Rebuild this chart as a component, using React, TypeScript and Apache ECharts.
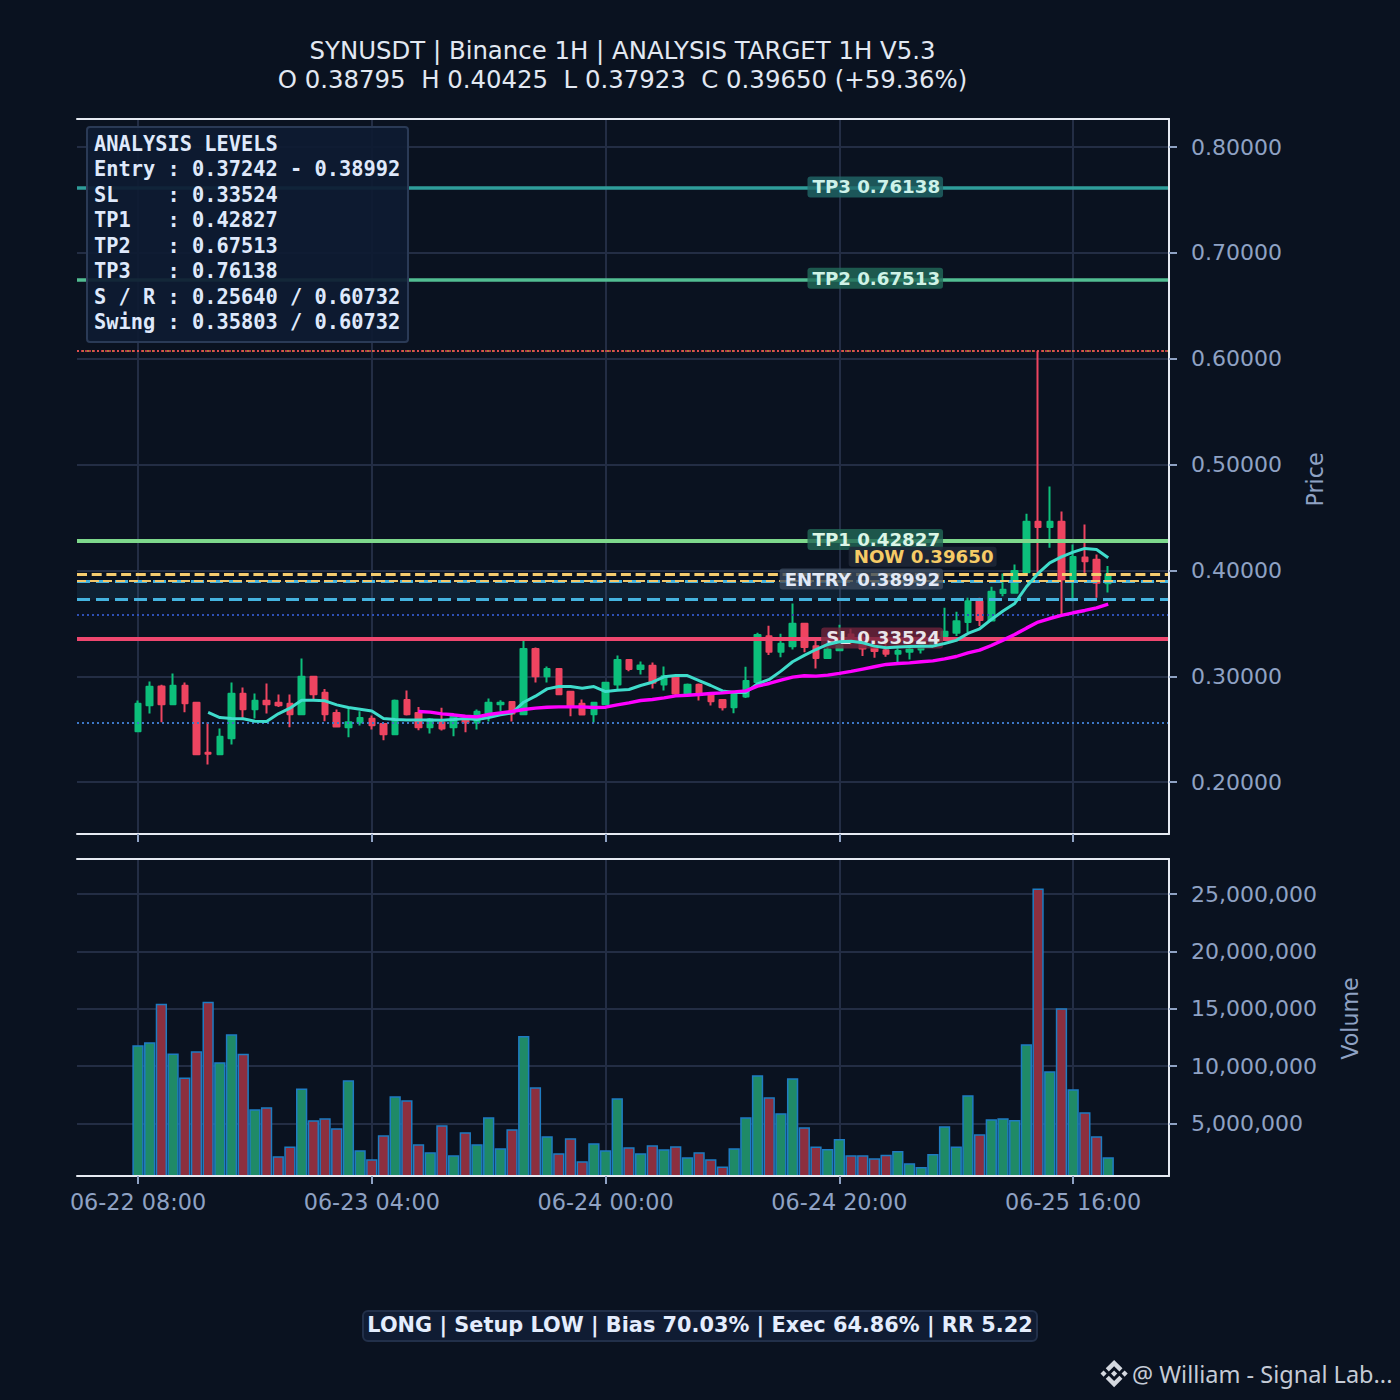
import React, { useEffect, useRef } from "react";
import * as echarts from "echarts";

// [open, close, low, high] for each hourly candle
const candles = [
  [.2481,.2740,.2481,.2771],[.2727,.2900,.2648,.2951],[.2903,.2736,.2566,.2919],[.2736,.2910,.2736,.3026],
  [.2910,.2746,.2661,.2941],[.2749,.2264,.2264,.2749],[.2277,.2267,.2166,.2566],[.2264,.2428,.2264,.2506],
  [.2415,.2834,.2355,.2941],[.2834,.2689,.2607,.2894],[.2689,.2768,.2601,.2837],[.2768,.2736,.2648,.2932],
  [.2749,.2727,.2711,.2828],[.2740,.2642,.2519,.2828],[.2642,.2995,.2642,.3168],[.2995,.2831,.2780,.2995],
  [.2844,.2642,.2576,.2881],[.2654,.2525,.2516,.2686],[.2519,.2566,.2425,.2702],[.2563,.2607,.2535,.2670],
  [.2598,.2538,.2497,.2629],[.2550,.2453,.2396,.2550],[.2453,.2768,.2453,.2780],[.2777,.2642,.2629,.2866],
  [.2654,.2519,.2491,.2711],[.2519,.2592,.2459,.2607],[.2563,.2506,.2488,.2702],[.2519,.2617,.2434,.2617],
  [.2592,.2563,.2472,.2592],[.2563,.2664,.2497,.2686],[.2654,.2749,.2573,.2790],[.2736,.2749,.2670,.2774],
  [.2758,.2648,.2573,.2758],[.2642,.3259,.2642,.3338],[.3259,.3001,.2941,.3272],[.3001,.3070,.2941,.3092],
  [.3070,.2831,.2831,.3070],[.2853,.2724,.2623,.2853],[.2740,.2639,.2629,.2780],[.2642,.2749,.2563,.2758],
  [.2736,.2938,.2736,.2938],[.2922,.3155,.2881,.3196],[.3155,.3070,.3048,.3155],[.3070,.3102,.3017,.3140],
  [.3099,.2938,.2884,.3130],[.2922,.3001,.2866,.3092],[.3001,.2837,.2818,.3001],[.2837,.2919,.2837,.2932],
  [.2919,.2834,.2771,.2932],[.2828,.2765,.2724,.2828],[.2777,.2708,.2677,.2777],[.2708,.2828,.2651,.2828],
  [.2810,.2955,.2796,.3090],[.2945,.3389,.2945,.3411],[.3379,.3231,.3200,.3477],[.3231,.3307,.3181,.3402],
  [.3285,.3496,.3253,.3688],[.3496,.3276,.3228,.3496],[.3285,.3172,.3074,.3342],[.3172,.3254,.3172,.3332],
  [.3247,.3291,.3247,.3487],[.3395,.3332,.3300,.3449],[.3317,.3263,.3191,.3395],[.3285,.3238,.3175,.3332],
  [.3247,.3213,.3184,.3317],[.3213,.3238,.3134,.3280],[.3231,.3254,.3159,.3285],[.3254,.3301,.3216,.3332],
  [.3285,.3332,.3270,.3380],[.3380,.3420,.3380,.3647],[.3411,.3521,.3380,.3609],[.3512,.3710,.3417,.3742],
  [.3710,.3531,.3474,.3742],[.3528,.3798,.3521,.3846],[.3786,.3817,.3757,.3972],[.3789,.3994,.3789,.4057],
  [.3984,.4460,.3984,.4536],[.4460,.4410,.3978,.60732],[.4410,.4460,.4214,.4794],[.4460,.3915,.35803,.4558],
  [.3915,.4126,.3710,.4246],[.4123,.4088,.3978,.4435],[.4101,.3883,.3742,.4151],[.38795,.39650,.37923,.40425],
];

// volumes in millions, one per candle
const volumesM = [
  11.82,12.08,15.45,11.12,9.03,11.30,15.62,10.34,12.78,11.09,6.25,6.42,2.15,3.02,8.07,5.29,5.46,4.59,8.77,2.68,
  1.89,3.98,7.38,7.03,3.20,2.50,4.86,2.24,4.25,3.20,5.55,2.85,4.51,12.64,8.17,3.90,2.42,3.72,1.72,3.29,
  2.68,7.21,2.94,2.42,3.11,2.77,3.03,2.07,2.50,1.90,1.26,2.85,5.55,9.21,7.29,5.90,8.95,4.68,3.02,2.79,
  3.66,2.24,2.24,1.98,2.30,2.62,1.54,1.23,2.36,4.77,3.02,7.47,4.07,5.38,5.46,5.32,11.91,25.49,9.56,15.04,
  7.99,5.99,3.90,2.07,
];

const fastStart = 6;
const fastLine = [
  .2658,.2610,.2601,.2598,.2576,.2573,.2645,.2699,.2774,.2774,.2768,.2730,.2705,.2689,.2673,.2601,.2592,.2588,.2588,.2588,
  .2585,.2592,.2601,.2592,.2610,.2636,.2654,.2755,.2812,.2881,.2903,.2903,.2888,.2903,.2856,.2869,.2875,.2913,.2944,.2995,
  .3007,.3007,.2960,.2913,.2862,.2847,.2848,.2929,.2970,.3049,.3137,.3197,.3253,.3301,.3326,.3332,.3316,.3285,.3269,.3276,
  .3282,.3285,.3285,.3310,.3339,.3405,.3449,.3537,.3616,.3688,.3846,.3972,.4072,.4129,.4173,.4208,.4198,.4120,
];

const slowStart = 24;
const slowLine = [
  .2667,.2661,.2645,.2636,.2623,.2617,.2639,.2654,.2667,.2686,.2699,.2708,.2711,.2711,.2711,.2705,.2708,.2730,.2749,.2771,
  .2781,.2796,.2815,.2821,.2828,.2837,.2843,.2853,.2862,.2907,.2932,.2964,.2992,.3005,.3002,.3011,.3027,.3046,.3068,.3090,
  .3112,.3121,.3127,.3137,.3146,.3165,.3187,.3222,.3247,.3291,.3342,.3395,.3455,.3512,.3546,.3575,.3600,.3622,.3647,.3682,
];

const xTickValues = [0, 20, 40, 60, 80];
const xTickLabels = ["06-22 08:00", "06-23 04:00", "06-24 00:00", "06-24 20:00", "06-25 16:00"];
const priceTicks = [0.2, 0.3, 0.4, 0.5, 0.6, 0.7, 0.8];
const volumeTicks = [5000000, 10000000, 15000000, 20000000, 25000000];

const TP1 = 0.42827, TP2 = 0.67513, TP3 = 0.76138, SL = 0.33524;
const ENTRY_LOW = 0.37242, ENTRY_HIGH = 0.38992, NOW = 0.3965;
const SUPPORT = 0.2564, RESISTANCE = 0.60732, SWING_LOW = 0.35803;

const titleText = "SYNUSDT | Binance 1H | ANALYSIS TARGET 1H V5.3\nO 0.38795  H 0.40425  L 0.37923  C 0.39650 (+59.36%)";
const panelLines = [
  "ANALYSIS LEVELS",
  "Entry : 0.37242 - 0.38992",
  "SL    : 0.33524",
  "TP1   : 0.42827",
  "TP2   : 0.67513",
  "TP3   : 0.76138",
  "S / R : 0.25640 / 0.60732",
  "Swing : 0.35803 / 0.60732",
];
const footerText = "LONG | Setup LOW | Bias 70.03% | Exec 64.86% | RR 5.22";
const watermarkText = "@ William - Signal Lab...";

const BG = "#0a1220";
const GRID = "#232d44";
const SPINE = "#e6eaf2";
const MUTED = "#8fa2c4";
const UP = "#0cbf7b";
const DOWN = "#ee4460";
const SANS = "DejaVu Sans";

const X_MIN = -5.218, X_MAX = 88.2;
const PRICE_MIN = 0.15099, PRICE_MAX = 0.82655;
const VOL_MIN = 440000, VOL_MAX = 28050000;

const binanceLogo =
  "M38.73 53.2l24.59-24.58 24.6 24.6 14.3-14.31L63.32 0 24.43 38.89zM0 63.31l14.3-14.3 14.31 14.3-14.31 14.31zM38.73 73.41l24.59 24.59 24.6-24.6 14.31 14.29-38.9 38.91-38.91-38.88-.02-.02zM98 63.31l14.3-14.3 14.31 14.3-14.3 14.31zM77.83 63.3L63.32 48.78 52.59 59.51l-1.24 1.23-2.54 2.54 14.51 14.51 14.51-14.5z";
echarts.graphic.registerShape("binanceLogo", echarts.graphic.extendPath(binanceLogo, {}) as any);

function levelLine(value: number, color: string, width: number, type: any, opacity = 1) {
  return { yAxis: value, lineStyle: { color, width, type, opacity } };
}

function levelLabel(x: number, value: number, text: string, color: string, bg: string, offsetY: number, padding = [2, 3, 1, 5]) {
  return {
    coord: [x, value],
    symbol: "circle",
    symbolSize: 0,
    label: {
      show: true,
      formatter: text,
      position: "inside",
      align: "right",
      verticalAlign: "middle",
      offset: [0, offsetY],
      color,
      fontFamily: SANS,
      fontWeight: "bold",
      fontSize: 18.2,
      backgroundColor: bg,
      borderRadius: 3,
      padding,
    },
  };
}

// bottom x axis: spine, ticks and labels, above the marks
function xAxisBase(gridIndex: number, showLabels: boolean) {
  return {
    type: "value",
    gridIndex,
    position: "bottom",
    min: X_MIN,
    max: X_MAX,
    z: 10,
    axisLine: { show: true, onZero: false, lineStyle: { color: SPINE, width: 2 } },
    axisTick: { show: true, customValues: xTickValues, length: 8, lineStyle: { color: MUTED, width: 2 } },
    axisLabel: {
      show: showLabels,
      customValues: xTickValues,
      hideOverlap: false,
      margin: 15,
      color: MUTED,
      fontFamily: SANS,
      fontSize: 22.3,
      formatter: (v: number) => xTickLabels[xTickValues.indexOf(v)] ?? "",
    },
    splitLine: { show: false },
  };
}

// top x axis: top spine and the vertical grid lines, below the marks
function xAxisTop(gridIndex: number) {
  return {
    type: "value",
    gridIndex,
    position: "top",
    min: X_MIN,
    max: X_MAX,
    axisLine: { show: true, onZero: false, lineStyle: { color: SPINE, width: 2 } },
    axisTick: { show: false, customValues: xTickValues },
    axisLabel: { show: false, customValues: xTickValues },
    splitLine: { show: true, lineStyle: { color: GRID, width: 2 } },
  };
}

// right y axis: spine, ticks, labels and name, above the marks
function yAxisBase(gridIndex: number, min: number, max: number, ticks: number[], name: string, gap: number, namePadding: number[], fmt: (v: number) => string) {
  return {
    type: "value",
    gridIndex,
    position: "right",
    min,
    max,
    z: 10,
    name,
    nameLocation: "middle",
    nameRotate: 90,
    nameGap: gap,
    nameTextStyle: { color: MUTED, fontFamily: SANS, fontSize: 22.2, padding: namePadding },
    axisLine: { show: true, onZero: false, lineStyle: { color: SPINE, width: 2 } },
    axisTick: { show: true, customValues: ticks, length: 8, lineStyle: { color: MUTED, width: 2 } },
    axisLabel: { customValues: ticks, margin: 22, color: MUTED, fontFamily: SANS, fontSize: 22, formatter: fmt },
    splitLine: { show: false },
  };
}

// left y axis: only the horizontal grid lines, below the marks
function yAxisGrid(gridIndex: number, min: number, max: number, ticks: number[]) {
  return {
    type: "value",
    gridIndex,
    position: "left",
    min,
    max,
    axisLine: { show: false, onZero: false },
    axisTick: { show: false, customValues: ticks },
    axisLabel: { show: false, customValues: ticks },
    splitLine: { show: true, lineStyle: { color: GRID, width: 2 } },
  };
}

export default function App() {
  const ref = useRef<HTMLDivElement>(null);

  useEffect(() => {
    document.body.style.margin = "0";
    document.body.style.background = BG;
    const chart = echarts.init(ref.current!, undefined, { renderer: "svg" });

    const option: any = {
      animation: false,
      backgroundColor: BG,
      title: {
        text: titleText,
        left: 617.5,
        top: 31,
        textAlign: "center",
        textStyle: { color: "#e2e8f2", fontFamily: SANS, fontWeight: "normal", fontSize: 24.4, lineHeight: 29 },
      },
      grid: [
        { left: 77, top: 119, width: 1092, height: 715 },
        { left: 77, top: 859, width: 1092, height: 317 },
      ],
      xAxis: [xAxisBase(0, false), xAxisBase(1, true), xAxisTop(0), xAxisTop(1)],
      yAxis: [
        yAxisBase(0, PRICE_MIN, PRICE_MAX, priceTicks, "Price", 135, [0, 6, 0, 0], (v) => v.toFixed(5)),
        yAxisBase(1, VOL_MIN, VOL_MAX, volumeTicks, "Volume", 170, [0, 2, 0, 0], (v) => v.toLocaleString("en-US")),
        yAxisGrid(0, PRICE_MIN, PRICE_MAX, priceTicks),
        yAxisGrid(1, VOL_MIN, VOL_MAX, volumeTicks),
      ],
      series: [
        {
          type: "candlestick",
          name: "Price",
          xAxisIndex: 0,
          yAxisIndex: 0,
          z: 3,
          barWidth: 6,
          encode: { x: 0, y: [1, 2, 3, 4] },
          itemStyle: { color: UP, color0: DOWN, borderColor: UP, borderColor0: DOWN, borderWidth: 2, borderJoin: "round" },
          data: candles.map((c, i) => [i, c[0], c[1], c[2], c[3]]),
        },
        {
          type: "line",
          name: "Levels",
          xAxisIndex: 0,
          yAxisIndex: 0,
          z: 4,
          silent: true,
          data: [],
          markArea: {
            silent: true,
            itemStyle: { color: "rgba(70,170,225,0.10)" },
            data: [[{ yAxis: ENTRY_LOW }, { yAxis: ENTRY_HIGH }]],
          },
          markLine: {
            silent: true,
            symbol: "none",
            precision: 5,
            label: { show: false },
            data: [
              levelLine(TP3, "#2f9d9a", 3.6, "solid"),
              levelLine(TP2, "#52bd92", 3.6, "solid"),
              levelLine(TP1, "#7ed88c", 3.8, "solid"),
              levelLine(SL, "#ef476f", 3.8, "solid"),
              levelLine(ENTRY_LOW, "#45b4e0", 3.2, [13, 6]),
              levelLine(ENTRY_HIGH, "#45b4e0", 3.2, [13, 6]),
              levelLine(ENTRY_HIGH, "#f2c76a", 2.2, [9, 4]),
              levelLine(NOW, "#f5cb6e", 3, [10, 4.7]),
              levelLine(SUPPORT, "#3d78c8", 2, [2, 3]),
              levelLine(SWING_LOW, "#2e4fb4", 2, [2, 3]),
              levelLine(RESISTANCE, "#e0a040", 1.5, [2, 3]),
              levelLine(RESISTANCE, "#ee4055", 1.5, [2, 2]),
            ],
          },
        },
        {
          type: "line",
          name: "Fast",
          xAxisIndex: 0,
          yAxisIndex: 0,
          z: 5,
          showSymbol: false,
          lineStyle: { color: "#3fdccb", width: 3 },
          data: fastLine.map((v, i) => [i + fastStart, v]),
        },
        {
          type: "line",
          name: "Slow",
          xAxisIndex: 0,
          yAxisIndex: 0,
          z: 5,
          showSymbol: false,
          lineStyle: { color: "#ff00ff", width: 3.4 },
          data: slowLine.map((v, i) => [i + slowStart, v]),
        },
        {
          type: "line",
          name: "Labels",
          xAxisIndex: 0,
          yAxisIndex: 0,
          z: 8,
          silent: true,
          data: [],
          markPoint: {
            silent: true,
            data: [
              levelLabel(68.87, TP3, "TP3 0.76138", "#cdf2ea", "rgba(32,104,104,0.8)", -1),
              levelLabel(68.87, TP2, "TP2 0.67513", "#d0f3e6", "rgba(34,108,90,0.8)", -1),
              levelLabel(68.87, TP1, "TP1 0.42827", "#dcf6e6", "rgba(34,104,86,0.8)", -1),
              levelLabel(73.45, NOW, "NOW 0.39650", "#f6cb66", "rgba(32,40,56,0.85)", -17.5, [0, 3, 2, 5]),
              levelLabel(68.87, ENTRY_HIGH, "ENTRY 0.38992", "#e2e9f6", "rgba(58,74,94,0.8)", -2),
              levelLabel(68.87, SL, "SL 0.33524", "#e9e6ea", "rgba(112,36,60,0.8)", -1),
            ],
          },
        },
        {
          type: "bar",
          name: "Volume",
          xAxisIndex: 1,
          yAxisIndex: 1,
          z: 3,
          barWidth: 11.3,
          data: volumesM.map((v, i) => ({
            value: [i, v * 1000000],
            itemStyle: {
              color: candles[i][1] >= candles[i][0] ? "#1f8a67" : "#8c2f3f",
              borderColor: "#1e7cc2",
              borderWidth: 1.5,
            },
          })),
        },
      ],
      graphic: [
        {
          type: "rect",
          z: 100,
          shape: { x: 87, y: 127, width: 321, height: 215, r: 3 },
          style: { fill: "rgba(14,27,50,0.93)", stroke: "#2a3a56", lineWidth: 2 },
        },
        {
          type: "text",
          z: 101,
          x: 94,
          y: 131,
          style: {
            text: panelLines.join("\n"),
            fill: "#dfe9fb",
            font: "bold 20.35px 'DejaVu Sans Mono'",
            lineHeight: 25.5,
          },
        },
        {
          type: "rect",
          z: 100,
          shape: { x: 363, y: 1311, width: 674, height: 30, r: 5 },
          style: { fill: "#101c33", stroke: "#22304a", lineWidth: 2 },
        },
        {
          type: "text",
          z: 101,
          x: 700,
          y: 1325,
          style: {
            text: footerText,
            fill: "#e4edfd",
            font: `bold 20.85px '${SANS}'`,
            textAlign: "center",
            textVerticalAlign: "middle",
          },
        },
        {
          type: "binanceLogo",
          z: 101,
          x: 1100.5,
          y: 1360,
          scaleX: 0.215,
          scaleY: 0.215,
          style: { fill: "#d4d8df" },
        },
        {
          type: "text",
          z: 101,
          x: 1132,
          y: 1373.5,
          style: {
            text: watermarkText,
            fill: "#c5cbd6",
            font: "23.5px 'Noto Sans'",
            textVerticalAlign: "middle",
          },
        },
      ],
    };

    chart.setOption(option);
    return () => chart.dispose();
  }, []);

  return <div ref={ref} style={{ width: 1400, height: 1400 }} />;
}
